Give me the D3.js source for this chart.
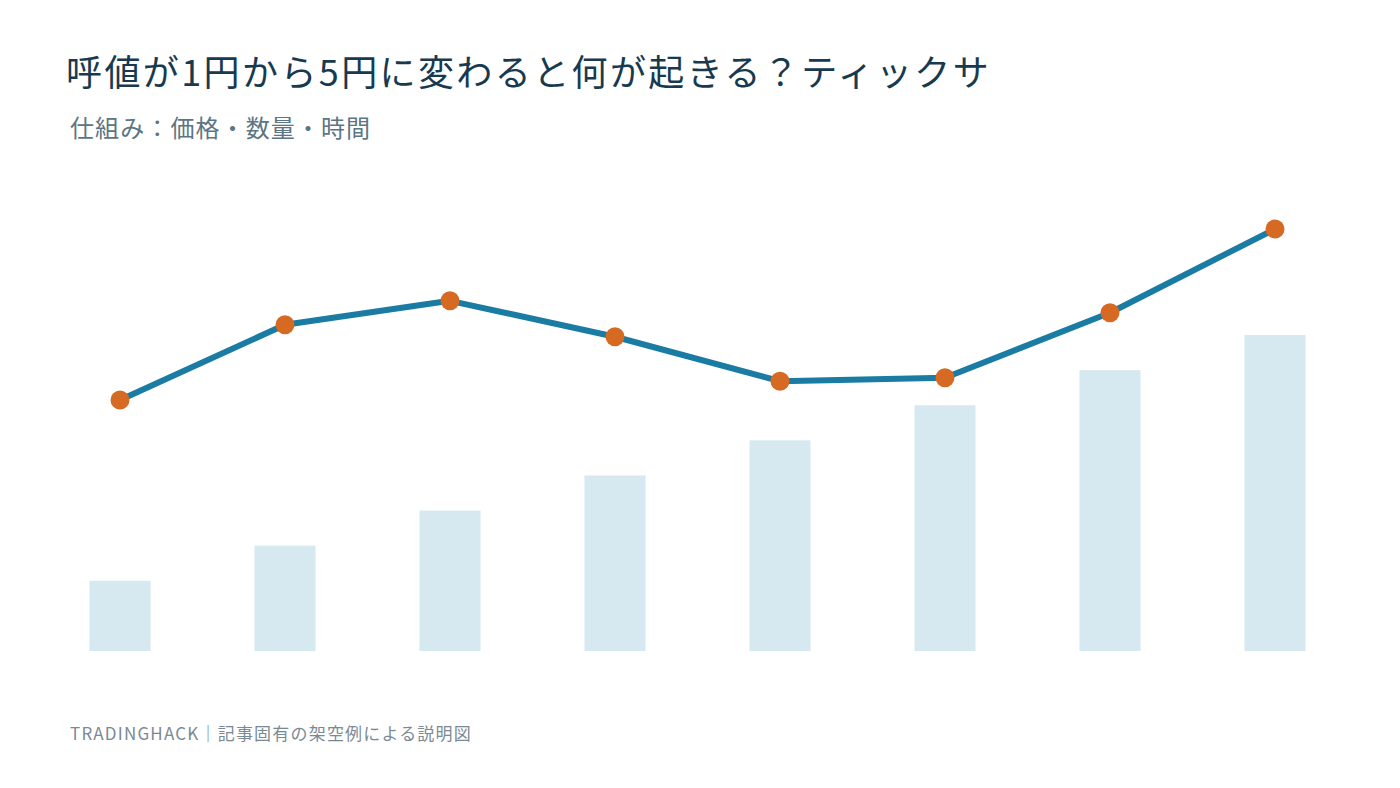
<!DOCTYPE html>
<html>
<head>
<meta charset="utf-8">
<script src="https://cdn.jsdelivr.net/npm/d3@7"></script>
<style>
  html, body { margin: 0; padding: 0; background: #fff; }
  svg { display: block; font-family: "Noto Sans CJK JP", "Noto Sans", sans-serif; }
</style>
</head>
<body>
<div id="chart"></div>
<script>
'use strict';

/*** Data */
const steps = ["t1", "t2", "t3", "t4", "t5", "t6", "t7", "t8"];
const volume = [2, 3, 4, 5, 6, 7, 8, 9];
const price = [100, 104.4, 105.8, 103.7, 101.1, 101.3, 105.1, 110];

/*** Text */
const title = "呼値が1円から5円に変わると何が起きる？ティックサ";
const subtitle = "仕組み：価格・数量・時間";
const footer = "TRADINGHACK｜記事固有の架空例による説明図";

/*** Dimensions */
const w = 1400;
const h = 788;

const svg = d3.select("#chart")
    .append("svg")
    .attr("width", w)
    .attr("height", h);

/** Scales */
const xScale = d3.scaleBand()
    .domain(steps)
    .range([37.5, 1357.5])
    .paddingInner(104 / 165)
    .paddingOuter(104 / 330);

const yVol = d3.scaleLinear()
    .domain([0, 9])
    .range([651, 335]);

const yPrice = d3.scaleLinear()
    .domain([100, 110])
    .range([400, 229]);

const cx = (d, i) => xScale(steps[i]) + xScale.bandwidth() / 2;

/** Bars */
svg.append("g")
    .selectAll("rect")
    .data(volume)
    .join("rect")
    .attr("x", (d, i) => xScale(steps[i]))
    .attr("y", d => yVol(d))
    .attr("width", xScale.bandwidth())
    .attr("height", d => yVol(0) - yVol(d))
    .attr("fill", "#d6e9f1");

/** Line */
const line = d3.line()
    .x(cx)
    .y(d => yPrice(d));

svg.append("path")
    .datum(price)
    .attr("d", line)
    .attr("fill", "none")
    .attr("stroke", "#1a7ba3")
    .attr("stroke-width", 6)
    .attr("stroke-linejoin", "round");

svg.append("g")
    .selectAll("circle")
    .data(price)
    .join("circle")
    .attr("cx", cx)
    .attr("cy", d => yPrice(d))
    .attr("r", 9.5)
    .attr("fill", "#d66a22");

/** Titles */
svg.append("text")
    .attr("x", 66)
    .attr("y", 86)
    .attr("font-size", 36)
    .attr("letter-spacing", 2.4)
    .attr("fill", "#173a50")
    .text(title);

svg.append("text")
    .attr("x", 70)
    .attr("y", 137)
    .attr("font-size", 24)
    .attr("letter-spacing", 1.1)
    .attr("fill", "#5c7584")
    .text(subtitle);

svg.append("text")
    .attr("x", 70)
    .attr("y", 740)
    .attr("font-size", 17)
    .attr("letter-spacing", 1.2)
    .attr("fill", "#7a8a94")
    .text(footer);
</script>
</body>
</html>
